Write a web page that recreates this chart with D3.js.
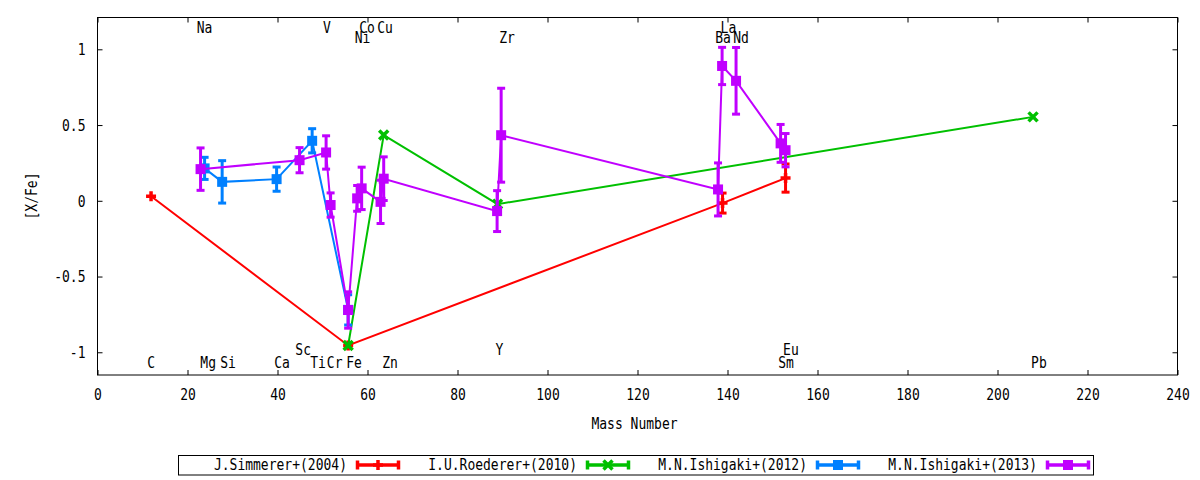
<html>
<head>
<title>[X/Fe] vs Mass Number</title>
<script src="https://cdnjs.cloudflare.com/ajax/libs/d3/7.8.5/d3.min.js"></script>
<style>
  body { margin: 0; background: #fff; }
  svg text { font-family: "DejaVu Sans Mono", monospace; font-size: 15.5px; fill: #000; }
</style>
</head>
<body>
<div class="datavis"></div>
<script type="text/javascript">

// J.Simmerer+(2004)
var simMass = [11.9, 55.7, 138.9, 152.9];
var simVal  = [0.03, -0.955, -0.015, 0.15];
var simErr  = [0, 0, 0.066, 0.093];

// I.U.Roederer+(2010)
var roeMass = [55.7, 63.6, 88.9, 207.9];
var roeVal  = [-0.955, 0.434, -0.022, 0.554];
var roeErr  = [0, 0, 0, 0];

// M.N.Ishigaki+(2012)
var ish12Mass = [23.8, 27.7, 39.8, 47.7, 55.7];
var ish12Val  = [0.214, 0.125, 0.143, 0.396, -0.72];
var ish12Err  = [0.073, 0.14, 0.08, 0.08, 0.1];

// M.N.Ishigaki+(2013)
var ish13Mass = [22.9, 44.9, 50.8, 51.8, 55.7, 57.7, 58.7, 62.9, 63.6, 88.8, 89.7, 137.9, 138.8, 141.9, 151.8, 152.9];
var ish13Val  = [0.209, 0.268, 0.319, -0.028, -0.721, 0.016, 0.082, -0.007, 0.146, -0.068, 0.433, 0.075, 0.89, 0.792, 0.379, 0.334];
var ish13Err  = [0.14, 0.083, 0.11, 0.08, 0.12, 0.085, 0.14, 0.143, 0.144, 0.135, 0.31, 0.175, 0.123, 0.22, 0.125, 0.11];

// element labels
var elemNames = ["C", "Mg", "Si", "Ca", "Sc", "Ti", "Cr", "Fe", "Zn", "Y", "Sm", "Eu", "Pb",
                 "Na", "V", "Co", "Cu", "Ni", "Zr", "La", "Ba", "Nd"];
var elemMass  = [11.9, 24.6, 29.0, 41.0, 45.7, 49.0, 52.7, 57.0, 65.0, 89.3, 153.0, 154.1, 209.2,
                 23.8, 51.0, 59.9, 63.9, 58.9, 91.0, 140.2, 139.0, 143.0];
var elemY     = [-1.069, -1.069, -1.069, -1.069, -0.98, -1.069, -1.069, -1.069, -1.069, -0.98, -1.069, -0.98, -1.069,
                 1.142, 1.142, 1.142, 1.142, 1.078, 1.078, 1.142, 1.078, 1.078];

var xTicks = [0, 20, 40, 60, 80, 100, 120, 140, 160, 180, 200, 220, 240];
var yTicks = [-1, -0.5, 0, 0.5, 1];

var series = [
	{ name: "J.Simmerer+(2004)",   color: "#ff0000", mark: "plus",   m: simMass,   v: simVal,   e: simErr },
	{ name: "I.U.Roederer+(2010)", color: "#00c000", mark: "cross",  m: roeMass,   v: roeVal,   e: roeErr },
	{ name: "M.N.Ishigaki+(2012)", color: "#0080ff", mark: "square", m: ish12Mass, v: ish12Val, e: ish12Err },
	{ name: "M.N.Ishigaki+(2013)", color: "#c000ff", mark: "square", m: ish13Mass, v: ish13Val, e: ish13Err }
];

var SX = 0.84; // narrow the mono font like the original

var svg = d3.select(".datavis").append("svg").attr("width", 1200).attr("height", 480);

var x = d3.scaleLinear().domain([0, 240]).range([97.5, 1177.5]);
var y = d3.scaleLinear().domain([-1.15, 1.21]).range([375, 17.5]);

function label(sel, px, py, s, anchor, rot){
	sel.append("text")
		.attr("transform", "translate(" + px + "," + py + ")" + (rot ? " rotate(" + rot + ")" : "") + " scale(" + SX + ",1)")
		.attr("text-anchor", anchor || "middle")
		.attr("dy", "0.35em")
		.text(s);
}

function marker(sel, type, color){
	if(type == "square"){
		sel.append("rect").attr("x", -5).attr("y", -5).attr("width", 10).attr("height", 10).attr("fill", color);
	} else {
		var d = type == "plus" ? "M-5,0H5M0,-5V5" : "M-4.5,-4.5L4.5,4.5M-4.5,4.5L4.5,-4.5";
		sel.append("path").attr("d", d).attr("stroke", color).attr("stroke-width", 3.5).attr("fill", "none");
	}
}

// axes
var gx = svg.append("g").attr("transform", "translate(0,375)")
	.call(d3.axisBottom(x).tickValues(xTicks).tickSize(-5).tickFormat(function(d){ return String(d); }));
gx.selectAll("text").attr("y", 20).attr("dy", "0.35em").attr("transform", "scale(" + SX + ",1)");

var gy = svg.append("g").attr("transform", "translate(97.5,0)")
	.call(d3.axisLeft(y).tickValues(yTicks).tickSize(-5).tickFormat(function(d){ return String(d); }));
gy.selectAll("text").attr("x", -12 / SX).attr("dy", "0.35em").attr("transform", "scale(" + SX + ",1)");

svg.append("g").attr("transform", "translate(0,17.5)")
	.call(d3.axisTop(x).tickValues(xTicks).tickSize(-5).tickFormat(""));
svg.append("g").attr("transform", "translate(1177.5,0)")
	.call(d3.axisRight(y).tickValues(yTicks).tickSize(-5).tickFormat(""));

svg.selectAll(".domain").remove();
svg.selectAll(".tick line").attr("stroke", "#000");
svg.selectAll(".tick text").style("font-size", "15.5px").style("font-family", "DejaVu Sans Mono");

svg.append("rect").attr("x", 97.5).attr("y", 17.5).attr("width", 1080).attr("height", 357.5)
	.attr("fill", "none").attr("stroke", "#000").attr("stroke-width", 1);

label(svg, 634.5, 424, "Mass Number");
label(svg, 31.5, 196, "[X/Fe]", "middle", -90);

// element names
elemNames.forEach(function(n, i){
	label(svg, x(elemMass[i]), y(elemY[i]), n);
});

// series
var plot = svg.append("g");
series.forEach(function(s){
	var pts = s.m.map(function(m, i){ return { m: m, v: s.v[i], e: s.e[i] }; });

	plot.append("path").datum(pts)
		.attr("d", d3.line().x(function(d){ return x(d.m); }).y(function(d){ return y(d.v); }))
		.attr("fill", "none").attr("stroke", s.color).attr("stroke-width", 2);

	var eb = plot.append("g").selectAll("g").data(pts.filter(function(d){ return d.e > 0; })).enter().append("g")
		.attr("stroke", s.color).attr("stroke-width", 3);
	eb.append("line")
		.attr("x1", function(d){ return x(d.m); }).attr("x2", function(d){ return x(d.m); })
		.attr("y1", function(d){ return y(d.v - d.e); }).attr("y2", function(d){ return y(d.v + d.e); });
	eb.append("line")
		.attr("x1", function(d){ return x(d.m) - 4; }).attr("x2", function(d){ return x(d.m) + 4; })
		.attr("y1", function(d){ return y(d.v + d.e); }).attr("y2", function(d){ return y(d.v + d.e); });
	eb.append("line")
		.attr("x1", function(d){ return x(d.m) - 4; }).attr("x2", function(d){ return x(d.m) + 4; })
		.attr("y1", function(d){ return y(d.v - d.e); }).attr("y2", function(d){ return y(d.v - d.e); });

	plot.append("g").selectAll("g").data(pts).enter().append("g")
		.attr("transform", function(d){ return "translate(" + x(d.m) + "," + y(d.v) + ")"; })
		.each(function(){ marker(d3.select(this), s.mark, s.color); });
});

// legend
var lg = svg.append("g");
lg.append("rect").attr("x", 178.5).attr("y", 455.5).attr("width", 915).attr("height", 19.5)
	.attr("fill", "none").attr("stroke", "#000").attr("stroke-width", 1);
series.forEach(function(s, i){
	var x0 = 356 + 230 * i, x1 = x0 + 44, ly = 465;
	label(lg, x0 - 9, ly, s.name, "end");
	var sg = lg.append("g").attr("stroke", s.color).attr("stroke-width", 3.5);
	sg.append("line").attr("x1", x0).attr("x2", x1).attr("y1", ly).attr("y2", ly);
	sg.append("line").attr("x1", x0 + 1.5).attr("x2", x0 + 1.5).attr("y1", ly - 4.5).attr("y2", ly + 4.5);
	sg.append("line").attr("x1", x1 - 1.5).attr("x2", x1 - 1.5).attr("y1", ly - 4.5).attr("y2", ly + 4.5);
	marker(lg.append("g").attr("transform", "translate(" + ((x0 + x1) / 2) + "," + ly + ")"), s.mark, s.color);
});

</script>
</body>
</html>
